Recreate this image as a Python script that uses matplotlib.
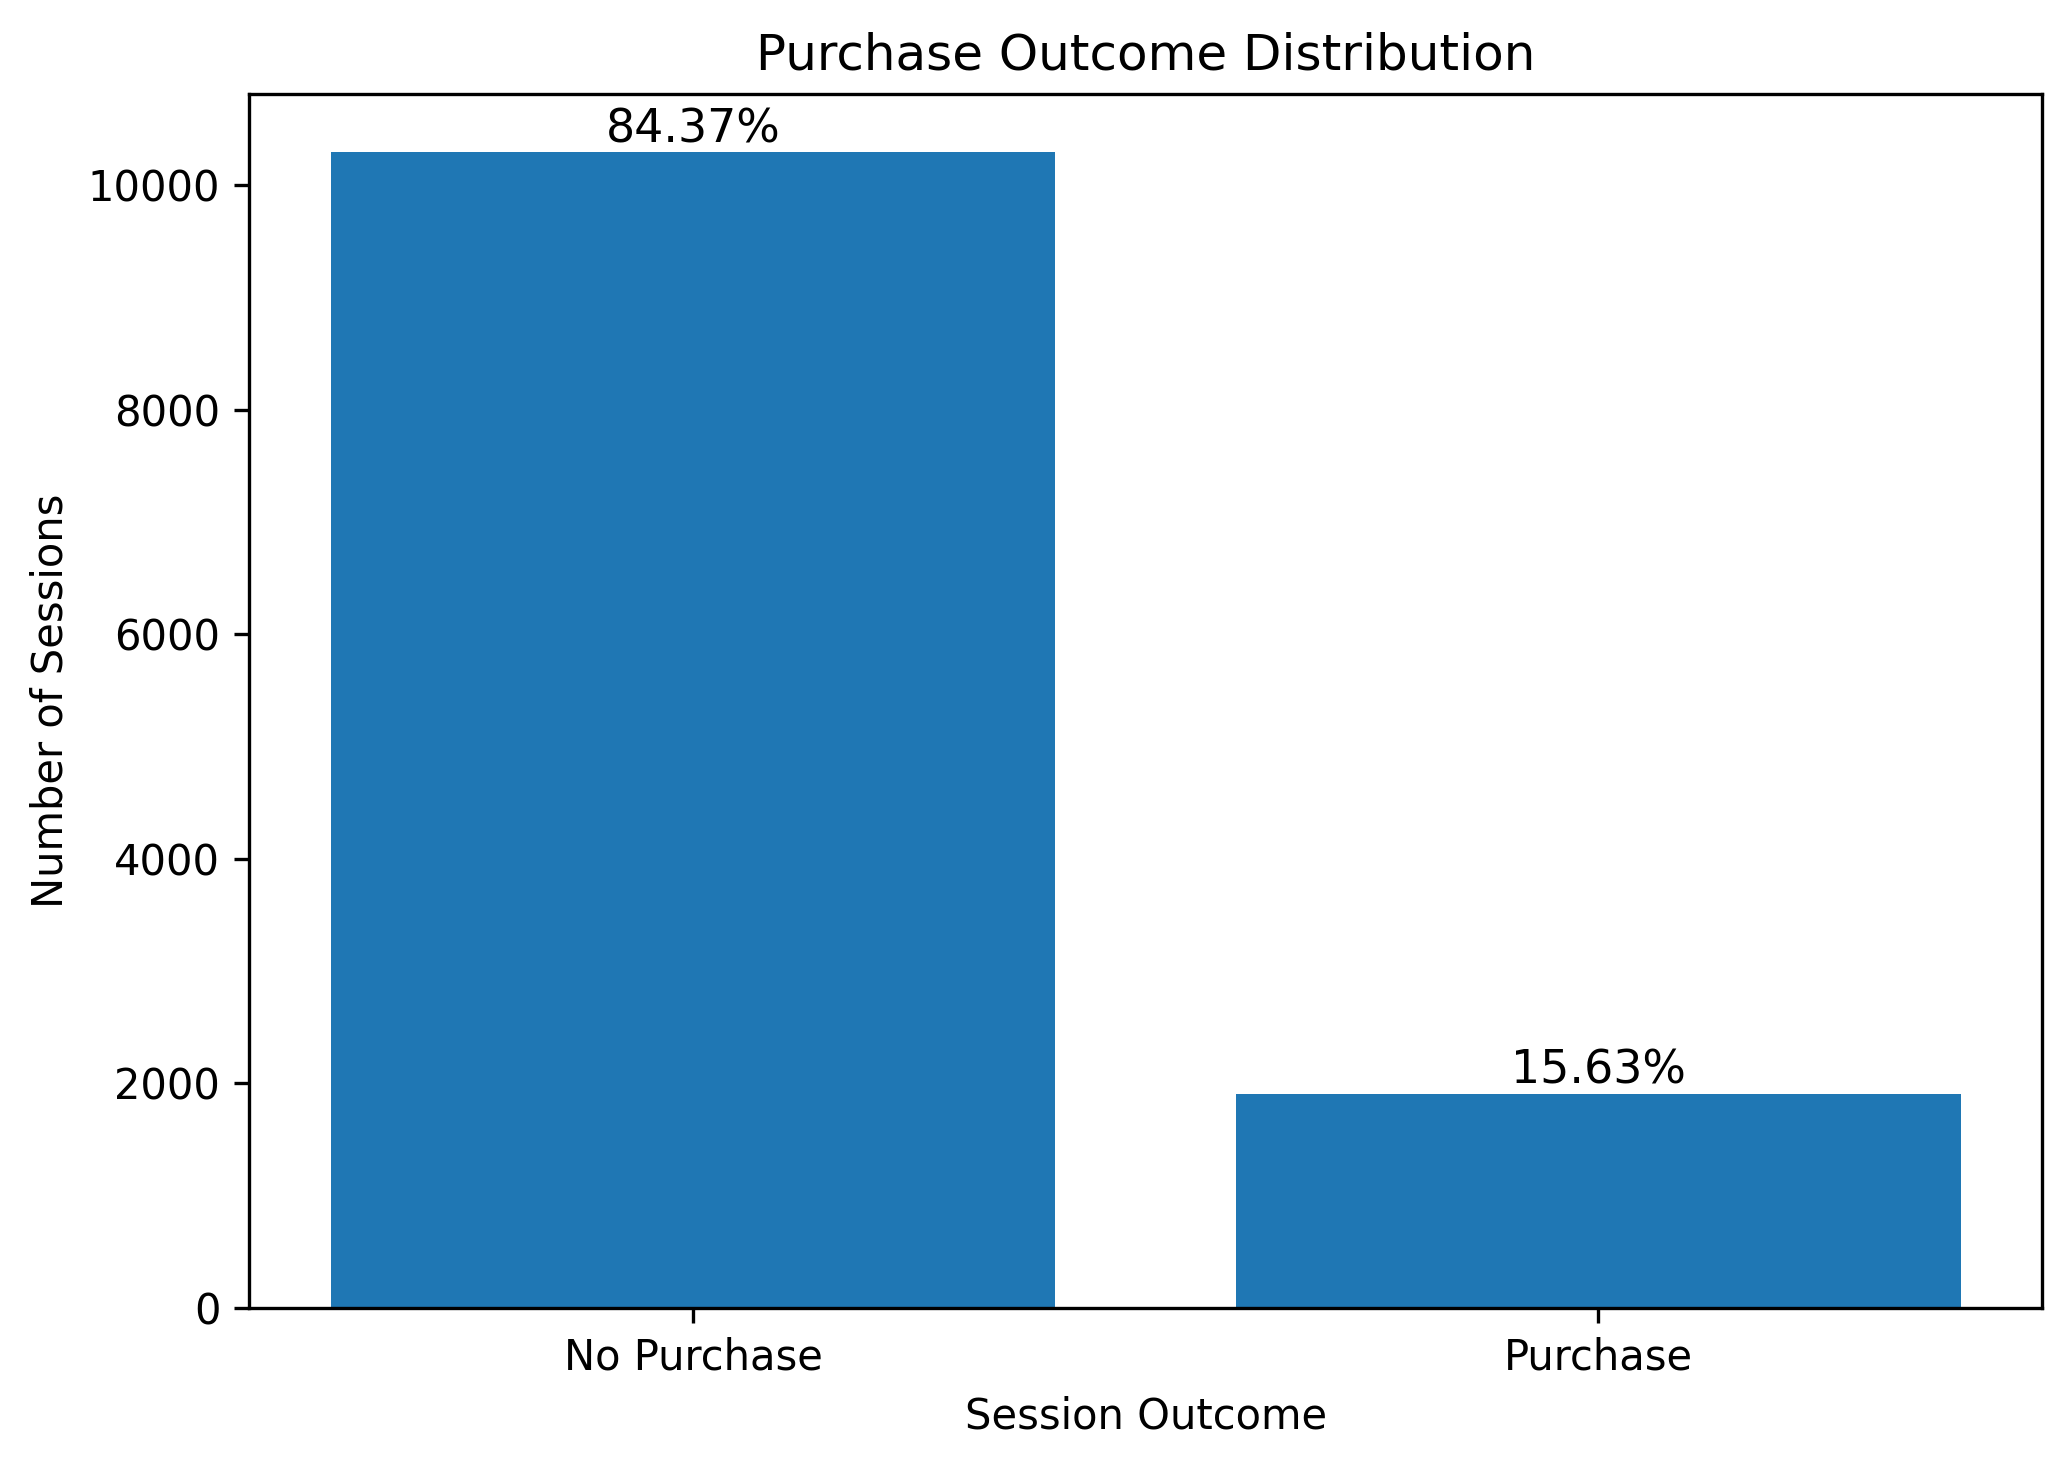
import matplotlib
matplotlib.use("Agg")
import matplotlib.pyplot as plt

outcomes = ["No Purchase", "Purchase"]
sessions = [10297, 1908]
shares = [84.37, 15.63]

fig, ax = plt.subplots(figsize=(6.9, 4.887))
fig.subplots_adjust(left=0.1205, right=0.9865, top=0.9357, bottom=0.108)

bars = ax.bar(outcomes, sessions, color="#1f77b4")
ax.bar_label(bars, labels=[f"{s:.2f}%" for s in shares], fontsize=11)

ax.set_title("Purchase Outcome Distribution")
ax.set_xlabel("Session Outcome")
ax.set_ylabel("Number of Sessions")

plt.savefig("out.png", dpi=300)
